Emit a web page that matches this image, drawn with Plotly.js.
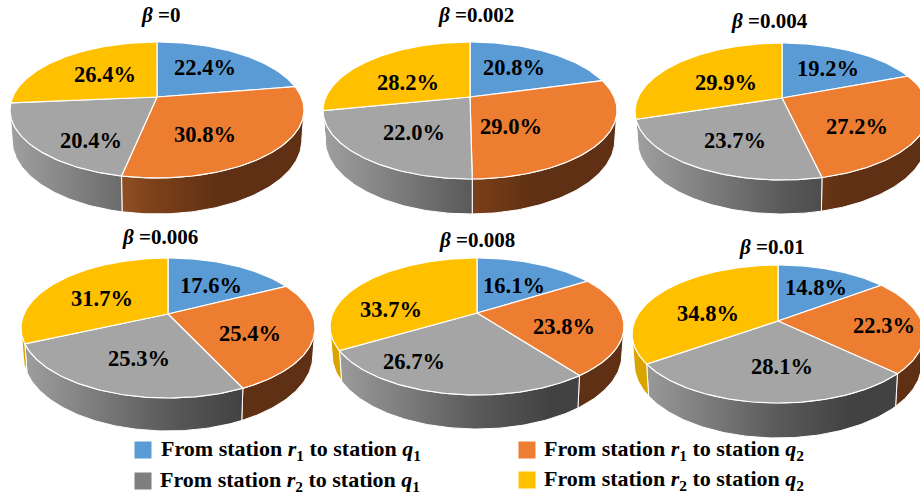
<!DOCTYPE html>
<html>
<head>
<meta charset="utf-8">
<script src="https://cdn.plot.ly/plotly-3.0.1.min.js"></script>
<style>html,body{margin:0;padding:0;background:#fff}#chart{width:920px;height:497px}</style>
</head>
<body>
<div id="chart"></div>
<script>
// Share of each station pair, in percent, for every beta setting
const betaValues = ['0', '0.002', '0.004', '0.006', '0.008', '0.01'];
const shareR1Q1 = [22.4, 20.8, 19.2, 17.6, 16.1, 14.8];
const shareR1Q2 = [30.8, 29.0, 27.2, 25.4, 23.8, 22.3];
const shareR2Q1 = [20.4, 22.0, 23.7, 25.3, 26.7, 28.1];
const shareR2Q2 = [26.4, 28.2, 29.9, 31.7, 33.7, 34.8];
const legendLabels = [
  'From station <i>r</i><sub>1</sub> to station <i>q</i><sub>1</sub>',
  'From station <i>r</i><sub>1</sub> to station <i>q</i><sub>2</sub>',
  'From station <i>r</i><sub>2</sub> to station <i>q</i><sub>1</sub>',
  'From station <i>r</i><sub>2</sub> to station <i>q</i><sub>2</sub>'
];

// Placement of the six tilted pies on the page
const pieFrames = [
  {cx: 157, cy: 97,  top: 42,  bottom: 178, rx: 147, depth: 36, title: [160, 15]},
  {cx: 470, cy: 97,  top: 42,  bottom: 179, rx: 147, depth: 35, title: [476, 15]},
  {cx: 782, cy: 98,  top: 43,  bottom: 180, rx: 147, depth: 34, title: [769, 21]},
  {cx: 168, cy: 314, top: 258, bottom: 398, rx: 147, depth: 33, title: [160, 237]},
  {cx: 477, cy: 313, top: 258, bottom: 395, rx: 147, depth: 34, title: [477, 240]},
  {cx: 778, cy: 321, top: 265, bottom: 403, rx: 146, depth: 35, title: [772, 247]}
];
const labelAnchors = [
  [[205, 67], [205, 134], [91, 140], [105, 74]],
  [[514, 67], [511, 126], [414, 132], [408, 82]],
  [[828, 68], [857, 126], [735, 140], [726, 82]],
  [[211, 285], [250, 333], [139, 358], [102, 298]],
  [[514, 285], [564, 326], [414, 361], [391, 309]],
  [[816, 287], [884, 325], [782, 366], [708, 313]]
];
const legendSlots = [[143, 450, 159], [527, 450, 542], [143, 481, 158], [527, 480, 542]];

const topColors = ['#5b9bd5', '#ed7d31', '#a5a5a5', '#ffc000'];
const legendColors = ['#5b9bd5', '#ed7d31', '#7f7f7f', '#ffc000'];
const wallScales = [
  [[0, '#3f7cb5'], [1, '#3f7cb5']],
  [[0, '#8f4f22'], [0.38, '#8f4f22'], [0.5, '#7b4019'], [0.72, '#5f3013'], [1, '#5f3013']],
  [[0, '#a0a0a0'], [0.5, '#5a5a5a'], [0.75, '#424242'], [1, '#424242']],
  [[0, '#d9a400'], [1, '#d9a400']]
];
const serif = '"Liberation Serif", "Times New Roman", serif';

// Perspective mapping of a disc: angle runs clockwise from twelve o'clock
function makeProjection(f) {
  const a = f.cy - f.top, b = f.bottom - f.cy;
  const k = (b - a) / (b + a);
  const B = a * (1 + k);
  const A = f.rx * Math.sqrt(1 - k * k);
  const place = (theta, r, drop, shrink) => {
    const u = r * Math.sin(theta), v = r * Math.cos(theta), w = 1 + k * v;
    return [f.cx + shrink * A * u / w, f.cy + (drop - B * v) / w];
  };
  return {place, k, drop: f.depth * (1 - k)};
}

function arc(from, to, fn) {
  const n = Math.max(2, Math.ceil(Math.abs(to - from) / (Math.PI / 180)));
  const pts = [];
  for (let i = 0; i <= n; i++) pts.push(fn(from + (to - from) * i / n));
  return pts;
}

const walls = [], tops = [], annotations = [];
const shareSets = [shareR1Q1, shareR1Q2, shareR2Q1, shareR2Q2];

betaValues.forEach((beta, p) => {
  const f = pieFrames[p];
  const proj = makeProjection(f);
  const shares = shareSets.map(s => s[p]);
  const total = shares.reduce((x, y) => x + y, 0);
  // Only the arc between the two horizontal extremes shows a side wall
  const visFrom = Math.acos(-proj.k), visTo = 2 * Math.PI - visFrom;
  let run = 0;
  shares.forEach((share, s) => {
    const t0 = run / total * 2 * Math.PI;
    run += share;
    const t1 = run / total * 2 * Math.PI;

    const w0 = Math.max(t0, visFrom), w1 = Math.min(t1, visTo);
    if (w1 > w0) {
      const upper = arc(w0, w1, t => proj.place(t, 1, 0, 1));
      const lower = arc(w1, w0, t => proj.place(t, 1, proj.drop, 0.985));
      const ring = upper.concat(lower);
      ring.push(upper[0]);
      walls.push({
        type: 'scatter', mode: 'lines', hoverinfo: 'skip', showlegend: false,
        x: ring.map(q => q[0]), y: ring.map(q => q[1]),
        fill: 'toself',
        fillgradient: {type: 'horizontal', start: f.cx - f.rx, stop: f.cx + f.rx, colorscale: wallScales[s]},
        line: {color: '#ffffff', width: 1}
      });
    }

    const rim = arc(t0, t1, t => proj.place(t, 1, 0, 1));
    const apex = proj.place(0, 0, 0, 1);
    const outline = [apex].concat(rim, [apex]);
    tops.push({
      type: 'scatter', mode: 'lines', hoverinfo: 'skip', showlegend: false,
      x: outline.map(q => q[0]), y: outline.map(q => q[1]),
      fill: 'toself', fillcolor: topColors[s],
      line: {color: '#ffffff', width: 1.2}
    });

    const at = labelAnchors[p][s];
    annotations.push({
      x: at[0], y: at[1], xref: 'x', yref: 'y', showarrow: false,
      xanchor: 'center', yanchor: 'middle',
      text: '<b>' + share.toFixed(1) + '%</b>',
      font: {family: serif, size: 22.5, color: '#000000'}
    });
  });

  annotations.push({
    x: f.title[0], y: f.title[1], xref: 'x', yref: 'y', showarrow: false,
    xanchor: 'center', yanchor: 'middle',
    text: '<b><i>β</i> =' + beta + '</b>',
    font: {family: serif, size: 21, color: '#000000'}
  });
});

const legendMarks = {
  type: 'scatter', mode: 'markers', hoverinfo: 'skip', showlegend: false,
  x: legendSlots.map(q => q[0]), y: legendSlots.map(q => q[1]),
  marker: {symbol: 'square', size: 17, color: legendColors, line: {width: 0}}
};

legendLabels.forEach((label, i) => {
  annotations.push({
    x: legendSlots[i][2], y: legendSlots[i][1], xref: 'x', yref: 'y', showarrow: false,
    xanchor: 'left', yanchor: 'middle',
    text: '<b>' + label + '</b>',
    font: {family: serif, size: 22, color: '#000000'}
  });
});

const hidden = {visible: false, fixedrange: true};
Plotly.newPlot('chart', walls.concat(tops, [legendMarks]), {
  width: 920, height: 497,
  margin: {l: 0, r: 0, t: 0, b: 0},
  paper_bgcolor: '#ffffff', plot_bgcolor: '#ffffff',
  showlegend: false,
  xaxis: Object.assign({range: [0, 920]}, hidden),
  yaxis: Object.assign({range: [497, 0]}, hidden),
  annotations
}, {displayModeBar: false, staticPlot: true});
</script>
</body>
</html>
